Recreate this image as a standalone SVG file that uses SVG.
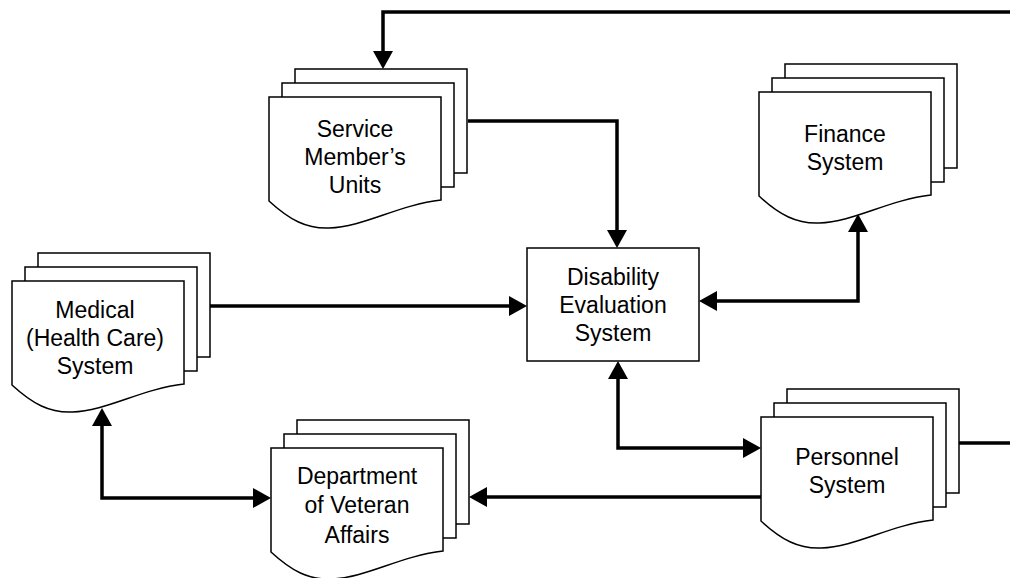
<svg xmlns="http://www.w3.org/2000/svg" xmlns:xlink="http://www.w3.org/1999/xlink" width="1010" height="578" viewBox="0 0 1010 578">
  <style>
    .sheet { fill: #fff; stroke: #000; stroke-width: 1.5; }
    .box { fill: #fff; stroke: #000; stroke-width: 1.5; }
    .label { font-family: "Liberation Sans", Arial, Helvetica, sans-serif; font-size: 23px; fill: #000; text-anchor: middle; }
    .wire { fill: none; stroke: #000; stroke-width: 3.5; stroke-linejoin: miter; }
    .one { marker-end: url(#head); }
    .two { marker-start: url(#head); marker-end: url(#head); }
  </style>
  <defs>
    <marker id="head" viewBox="0 0 18 20" refX="2" refY="10" markerWidth="18" markerHeight="20" markerUnits="userSpaceOnUse" orient="auto-start-reverse">
      <path d="M0,0 L18,10 L0,20 z" fill="#000"/>
    </marker>
    <!-- stacked document shape: two plain sheets behind a wavy-bottom front sheet -->
    <g id="stack">
      <rect class="sheet" x="26" y="-28" width="172" height="104"/>
      <rect class="sheet" x="13" y="-14" width="172" height="104"/>
      <path class="sheet" d="M0,0 H172 V103 C129,108 94.6,130 60.2,131 C37.8,132 20.6,123 0,104 Z"/>
    </g>
  </defs>

  <g id="connectors">
    <path class="wire one" d="M1010,12 H383 V53"/>
    <path class="wire" d="M958,443 H1010"/>
    <path class="wire one" d="M468,121 H617 V232"/>
    <path class="wire one" d="M210,306 H511"/>
    <path class="wire two" d="M715,301 H858 V230"/>
    <path class="wire two" d="M618,377 V448 H745"/>
    <path class="wire one" d="M761,497 H485"/>
    <path class="wire two" d="M102,424 V498 H255"/>
  </g>

  <g id="service-units">
    <use xlink:href="#stack" x="269" y="97"/>
    <text class="label" x="355" y="137">Service</text>
    <text class="label" x="355" y="165">Member’s</text>
    <text class="label" x="355" y="193">Units</text>
  </g>

  <g id="finance-system">
    <use xlink:href="#stack" x="759" y="92"/>
    <text class="label" x="845" y="142">Finance</text>
    <text class="label" x="845" y="170">System</text>
  </g>

  <g id="medical-system">
    <use xlink:href="#stack" x="12" y="281"/>
    <text class="label" x="95" y="318">Medical</text>
    <text class="label" x="95" y="346">(Health Care)</text>
    <text class="label" x="95" y="374">System</text>
  </g>

  <g id="disability-evaluation">
    <rect class="box" x="527" y="248" width="172" height="113"/>
    <text class="label" x="613" y="285">Disability</text>
    <text class="label" x="613" y="313">Evaluation</text>
    <text class="label" x="613" y="341">System</text>
  </g>

  <g id="veteran-affairs">
    <use xlink:href="#stack" x="271" y="448"/>
    <text class="label" x="357" y="484">Department</text>
    <text class="label" x="357" y="513">of Veteran</text>
    <text class="label" x="357" y="543">Affairs</text>
  </g>

  <g id="personnel-system">
    <use xlink:href="#stack" x="761" y="417"/>
    <text class="label" x="847" y="465">Personnel</text>
    <text class="label" x="847" y="493">System</text>
  </g>
</svg>
